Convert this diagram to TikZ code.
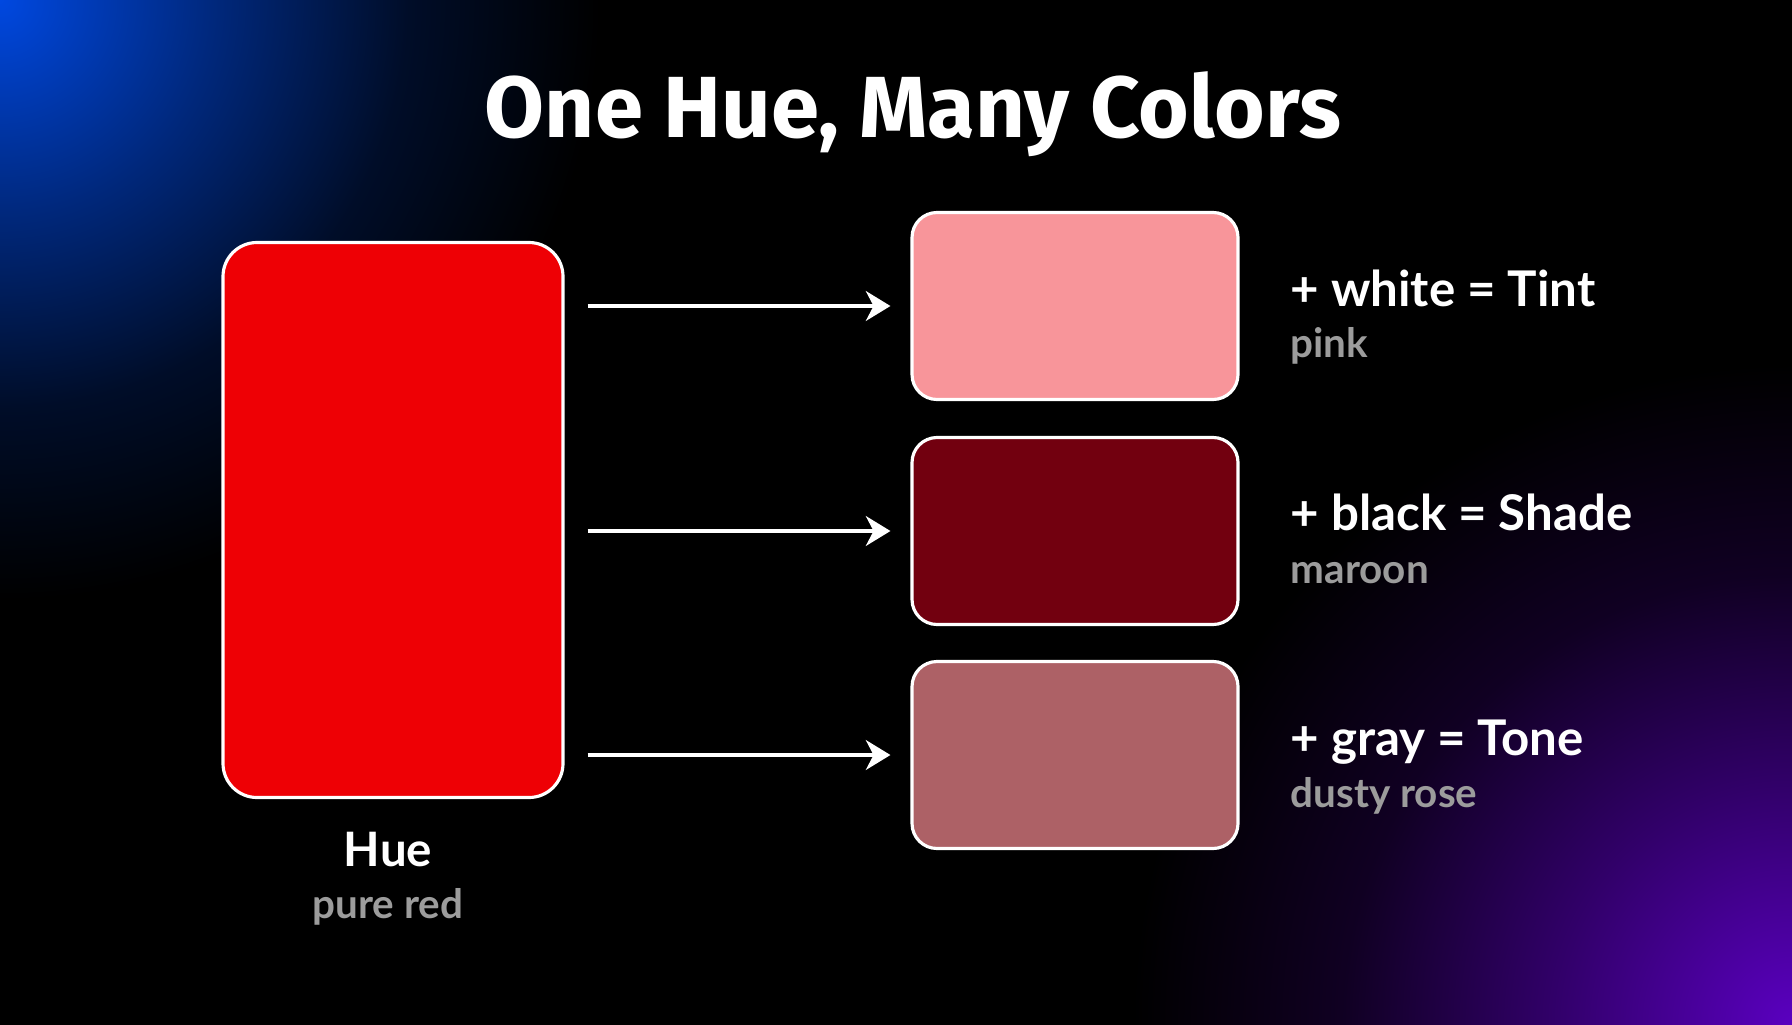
\documentclass[tikz,border=0pt]{standalone}
\usepackage{fontspec}
\setmainfont{Lato}
\newfontfamily\titlefont{Fira Sans}
\usetikzlibrary{arrows.meta}
\definecolor{huered}{HTML}{EE0005}
\definecolor{tintpink}{HTML}{F8959A}
\definecolor{shademaroon}{HTML}{72000F}
\definecolor{tonerose}{HTML}{AD6166}
\definecolor{subgray}{HTML}{9C9C9C}
\definecolor{glowblue}{HTML}{0048E0}
\definecolor{glowpurple}{HTML}{5A00C0}
\pgfdeclareradialshading{blueglow}{\pgfpoint{0bp}{0bp}}{color(0bp)=(glowblue); color(9bp)=(glowblue!55!black); color(17bp)=(glowblue!18!black); color(25bp)=(black); color(50bp)=(black)}
\pgfdeclareradialshading{purpleglow}{\pgfpoint{0bp}{0bp}}{color(0bp)=(glowpurple); color(9bp)=(glowpurple!55!black); color(17bp)=(glowpurple!18!black); color(25bp)=(black); color(50bp)=(black)}
\begin{document}
\begin{tikzpicture}[x=0.1mm, y=-0.1mm,
  swatch/.style={draw=white, line width=0.9pt, rounded corners=2.5mm, minimum width=3.26cm, minimum height=1.87cm, inner sep=0pt},
  mixlabel/.style={anchor=base west, inner sep=0pt, text=white, font=\bfseries\fontsize{14}{17}\selectfont},
  sublabel/.style={anchor=base west, inner sep=0pt, text=subgray, font=\bfseries\fontsize{11.5}{14}\selectfont},
  mixarrow/.style={draw=white, line width=0.9pt, -{Stealth[length=7pt, width=8.5pt, inset=2.2pt]}, shorten <=2.3mm, shorten >=2mm}]
\useasboundingbox (0,0) rectangle (1792,1024);
\fill [black] (-10,-10) rectangle (1802,1034);
\begin{scope}
\clip (-10,-10) rectangle (1802,1034);
\shade [shading=blueglow] (0,0) circle (60mm);
\shade [shading=purpleglow] (1792,1024) circle (66mm);
\end{scope}
\node (title) at (913,137) [anchor=base, text=white, font=\titlefont\bfseries\fontsize{24.7}{30}\selectfont] {One Hue, Many Colors};
\node (hue) at (393,520) [draw=white, line width=0.9pt, fill=huered, rounded corners=3.4mm, minimum width=3.4cm, minimum height=5.55cm, inner sep=0pt] {};
\node (huename) at (388,866) [anchor=base, text=white, font=\bfseries\fontsize{13.5}{16}\selectfont] {Hue};
\node (huesub) at (388,918) [anchor=base, text=subgray, font=\bfseries\fontsize{11.5}{14}\selectfont] {pure red};
\node (tint) at (1075,306) [swatch, fill=tintpink] {};
\node (shade) at (1075,531) [swatch, fill=shademaroon] {};
\node (tone) at (1075,755) [swatch, fill=tonerose] {};
\node (tintname) at (1290,306) [mixlabel] {+ white = Tint};
\node (tintsub) at (1290,357) [sublabel] {pink};
\node (shadename) at (1290,530) [mixlabel] {+ black = Shade};
\node (shadesub) at (1290,583) [sublabel] {maroon};
\node (tonename) at (1290,755) [mixlabel] {+ gray = Tone};
\node (tonesub) at (1290,807) [sublabel] {dusty rose};
\draw [mixarrow] (hue.east |- tint.west) -- (tint.west);
\draw [mixarrow] (hue.east |- shade.west) -- (shade.west);
\draw [mixarrow] (hue.east |- tone.west) -- (tone.west);
\end{tikzpicture}
\end{document}
